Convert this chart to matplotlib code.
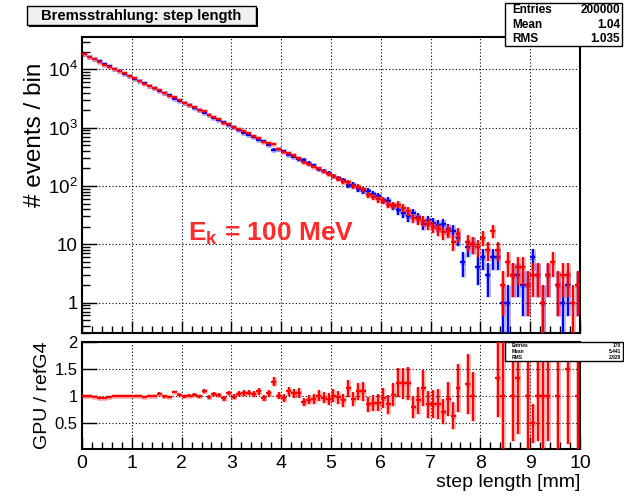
import numpy as np
import matplotlib
matplotlib.use("Agg")
import matplotlib.pyplot as plt
from matplotlib.patches import Rectangle
from matplotlib.ticker import FixedLocator, MultipleLocator, NullFormatter

plt.rcParams['font.family'] = ['Liberation Sans', 'DejaVu Sans']
plt.rcParams['mathtext.fontset'] = 'custom'
plt.rcParams['mathtext.rm'] = 'Liberation Sans'
plt.rcParams['mathtext.bf'] = 'Liberation Sans:bold'
plt.rcParams['mathtext.it'] = 'Liberation Sans:italic'

# binning of the histograms (step length in mm)
x_min, x_max, n_bins = 0.0, 10.0, 100

# Geant4 reference (blue)
ref_g4 = [18290, 16650, 15160, 13830, 12510, 11290, 10250, 9320, 8440, 7720,
          6980, 6330, 5790, 5230, 4760, 4250, 3930, 3580, 3150, 2920,
          2680, 2420, 2180, 2000, 1760, 1660, 1480, 1350, 1260, 1100,
          1030, 910, 820, 745, 680, 610, 585, 510, 420, 432,
          398, 340, 315, 285, 282, 250, 226, 198, 184, 170,
          148, 137, 128, 102, 105, 89, 81, 82, 74, 67,
          58, 56, 46, 38, 34, 30, 35, 29, 22, 26,
          23, 21, 22, 18, 17, 13, 5, 9, 10, 4,
          6, 3, 6, 6, 1, 1, 3, 3, 2, 2,
          6, 3, 1, 3, 0, 2, 1, 2, 0, 2]

# GPU (red)
gpu = [18310, 16610, 15010, 13420, 12140, 11180, 10260, 9330, 8520, 7710,
       6990, 6390, 5730, 5240, 4750, 4460, 3920, 3540, 3400, 3010,
       2670, 2440, 2250, 2000, 1920, 1640, 1550, 1390, 1210, 1170,
       1020, 955, 870, 797, 714, 665, 567, 541, 533, 436,
       386, 371, 334, 302, 254, 235, 215, 200, 178, 161,
       149, 134, 119, 117, 100, 97, 88, 70, 65, 59,
       56, 48, 47, 48, 42, 37, 28, 27, 25, 22,
       20, 18, 16, 17, 11, 15, 0, 11, 10, 9,
       13, 8, 17, 8, 2, 5, 3, 4, 4, 2,
       3, 3, 1, 3, 5, 2, 3, 3, 1, 2]

nan = float('nan')
# GPU / refG4 as shown in the lower pad
ratio = [1.00, 1.00, 0.99, 0.97, 0.97, 0.99, 1.00, 1.00, 1.01, 1.00,
         1.00, 1.01, 0.99, 1.00, 1.00, 1.05, 1.00, 0.99, 1.08, 1.03,
         1.00, 1.01, 1.03, 1.00, 1.09, 0.99, 1.05, 1.03, 0.96, 1.06,
         0.99, 1.05, 1.06, 1.07, 1.05, 1.09, 0.97, 1.06, 1.27, 1.01,
         0.97, 1.09, 1.06, 1.06, 0.90, 0.94, 0.95, 1.01, 0.97, 0.95,
         1.01, 0.98, 0.93, 1.15, 0.95, 1.09, 1.09, 0.85, 0.88, 0.88,
         0.97, 0.85, 1.03, 1.25, 1.24, 1.24, 0.80, 0.93, 1.15, 0.85,
         0.86, 0.86, 0.72, 0.95, 0.64, 1.15, nan, 1.23, 1.00, nan,
         nan, nan, nan, 1.33, 1.00, nan, 1.00, 1.33, nan, 1.00,
         0.50, 1.00, 1.00, 1.00, nan, 1.00, nan, 1.50, nan, 1.00]

y_ticks = [1, 10, 100, 1000, 10000]
y_tick_labels = ['1', '10', '$10^2$', '$10^3$', '$10^4$']
r_ticks = [0.5, 1, 1.5, 2]
r_tick_labels = ['0.5', '1', '1.5', '2']

stats_top = [('Entries', '200000'), ('Mean', '1.04'), ('RMS', '1.035')]
stats_bot = [('Entries', '170'), ('Mean', '5.441'), ('RMS', '2.928')]

RED = '#ff0000'
BLUE = '#0000ff'

edges = np.linspace(x_min, x_max, n_bins + 1)
xc = 0.5 * (edges[:-1] + edges[1:])
hw = 0.5 * (edges[1] - edges[0])

ref_g4 = np.array(ref_g4, dtype=float)
gpu = np.array(gpu, dtype=float)
ratio = np.array(ratio)
with np.errstate(divide='ignore', invalid='ignore'):
    ratio_err = ratio * np.sqrt(1.0 / gpu + 1.0 / ref_g4)

W, H = 624, 499
fig = plt.figure(figsize=(W / 100, H / 100), dpi=100)


def fx(px):
    return px / W


def fy(py):
    return 1 - py / H


ax = fig.add_axes([fx(82), fy(333), fx(580) - fx(82), fy(37) - fy(333)])
axr = fig.add_axes([fx(82), fy(449), fx(580) - fx(82), fy(342) - fy(449)])


def draw_hist(a, x, y, err, color, zorder):
    m = np.isfinite(y) & (y > 0)
    # soft halo then crisp line, like the ROOT rendering
    a.errorbar(x[m], y[m], xerr=hw, yerr=err[m], fmt='none', ecolor=color,
               elinewidth=3.5, alpha=0.3, capsize=0, zorder=zorder)
    a.errorbar(x[m], y[m], xerr=hw, yerr=err[m], fmt='none', ecolor=color,
               elinewidth=1.4, capsize=0, zorder=zorder + 0.5)


ax.set_yscale('log')
draw_hist(ax, xc, ref_g4, np.sqrt(ref_g4), BLUE, 3)
draw_hist(ax, xc, gpu, np.sqrt(gpu), RED, 4)
ax.set_xlim(x_min, x_max)
ax.set_ylim(0.3, 3.6e4)

draw_hist(axr, xc, ratio, ratio_err, RED, 4)
axr.set_xlim(x_min, x_max)
axr.set_ylim(0.03, 2)

for a in (ax, axr):
    a.grid(True, which='major', color='black', linestyle=(0, (1, 2)), linewidth=0.8)
    a.set_axisbelow(True)
    a.xaxis.set_major_locator(MultipleLocator(1))
    a.xaxis.set_minor_locator(MultipleLocator(0.2))
    a.tick_params(which='both', direction='in', top=False, right=False, width=1)
    a.tick_params(axis='x', which='major', length=9)
    a.tick_params(axis='x', which='minor', length=5)
    for s in a.spines.values():
        s.set_linewidth(1.5)

ax.yaxis.set_major_locator(FixedLocator(y_ticks))
ax.set_yticklabels(y_tick_labels, fontsize=13.5)
ax.yaxis.set_minor_locator(matplotlib.ticker.LogLocator(base=10, subs=np.arange(2, 10)))
ax.yaxis.set_minor_formatter(NullFormatter())
ax.tick_params(axis='y', which='major', length=11, pad=3)
ax.tick_params(axis='y', which='minor', length=6)
ax.xaxis.set_major_formatter(NullFormatter())
# ROOT puts the axis title at the top end of the axis
ax.set_ylabel('# events / bin', fontsize=17.5, loc='top')
ax.yaxis.set_label_coords(-0.072, 0.915)

axr.yaxis.set_major_locator(FixedLocator(r_ticks))
axr.set_yticklabels(r_tick_labels, fontsize=12)
axr.tick_params(axis='y', which='major', length=11, pad=3)
axr.tick_params(axis='x', labelsize=14, pad=4)
axr.set_ylabel('GPU / refG4', fontsize=14)
axr.yaxis.set_label_coords(-0.062, 0.5)
axr.set_xlabel('step length [mm]', fontsize=14, loc='right', labelpad=2)

ax.text(0.213, 0.31, r'$\mathbf{E_k}$ = 100 MeV', transform=ax.transAxes,
        color='#ff2a2a', fontsize=19, fontweight='bold', ha='left', va='baseline')

# title box
fig.patches.append(Rectangle((fx(29), fy(27)), fx(256) - fx(27), fy(6) - fy(25),
                             transform=fig.transFigure, facecolor='black', edgecolor='none'))
fig.patches.append(Rectangle((fx(27), fy(25)), fx(256) - fx(27), fy(6) - fy(25),
                             transform=fig.transFigure, facecolor='#f0f0f0',
                             edgecolor='black', linewidth=1))
fig.text(fx(141), fy(16), 'Bremsstrahlung: step length', fontsize=10.6, fontweight='bold',
         ha='center', va='center')


def stats_box(x0, x1, y0, y1, rows, size):
    fig.patches.append(Rectangle((fx(x0), fy(y1)), fx(x1) - fx(x0), fy(y0) - fy(y1),
                                 transform=fig.transFigure, facecolor='white',
                                 edgecolor='black', linewidth=1, zorder=5))
    step = (y1 - y0) / len(rows)
    for k, (name, val) in enumerate(rows):
        yc = y0 + step * (k + 0.5)
        fig.text(fx(x0 + 7), fy(yc), name, fontsize=size, fontweight='bold',
                 ha='left', va='center', zorder=6)
        fig.text(fx(x1 - 2), fy(yc), val, fontsize=size, fontweight='bold',
                 ha='right', va='center', zorder=6)


stats_box(505, 622, 3, 46, stats_top, 8.5)
stats_box(505, 623, 342, 361, stats_bot, 3.5)

fig.savefig('out.png', dpi=100)
